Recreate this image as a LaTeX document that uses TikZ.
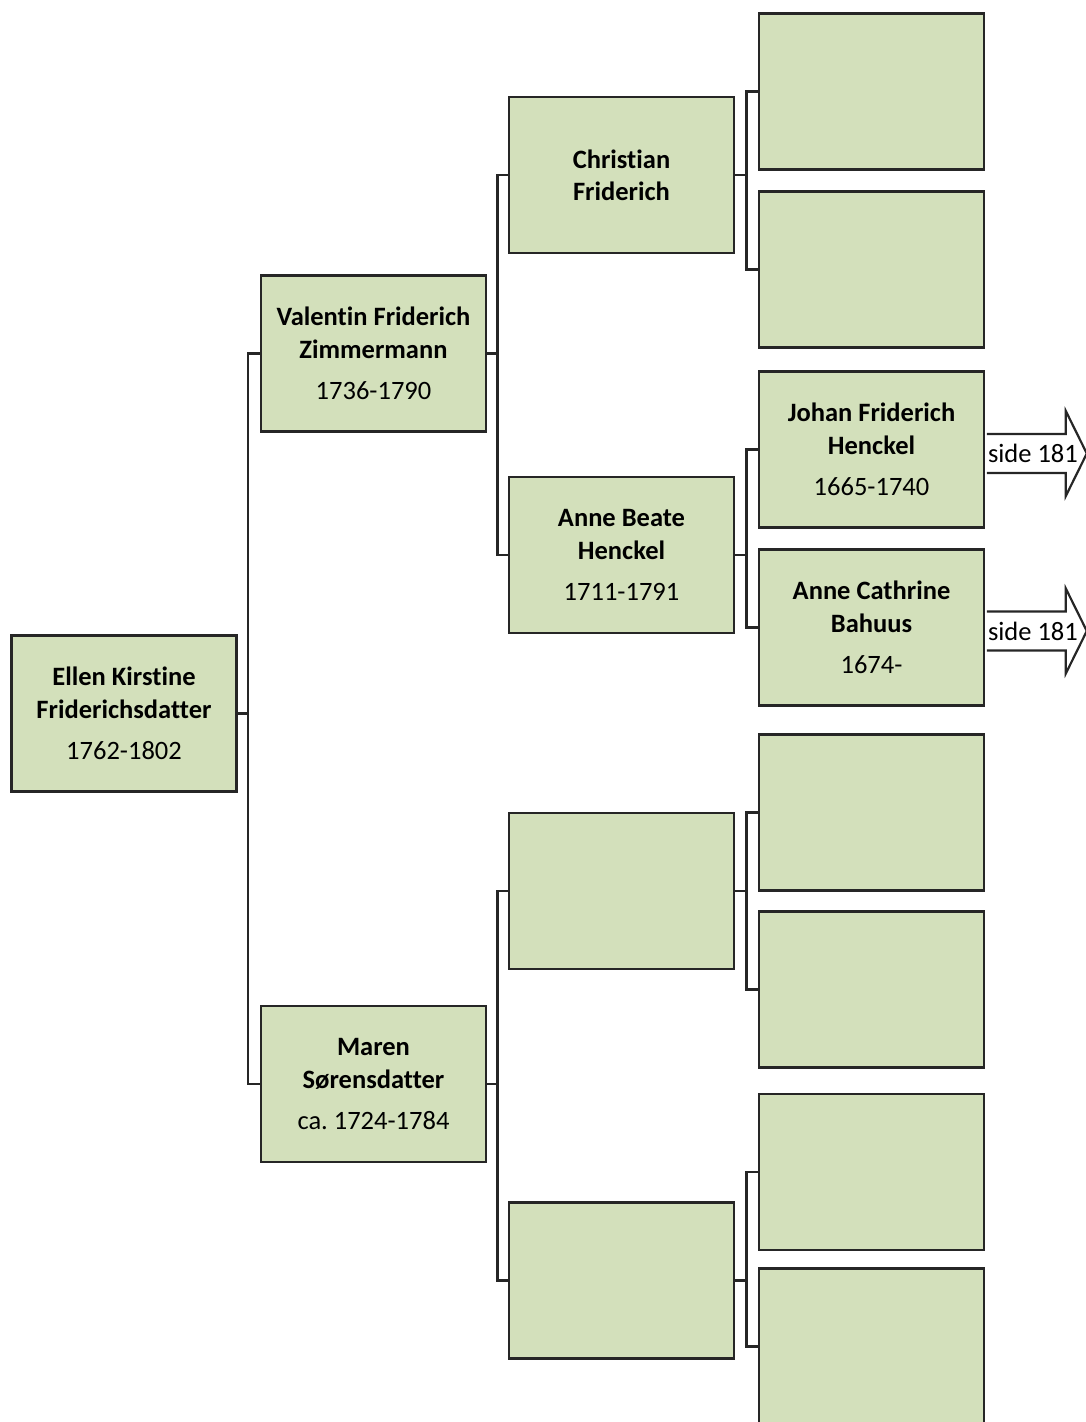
\documentclass[tikz,border=0pt]{standalone}
\usepackage{fontspec}
\setmainfont[RawFeature={-liga;-clig;-calt;-dlig}]{Carlito}
\definecolor{boxgreen}{HTML}{D3E0BB}
\definecolor{boxline}{HTML}{262626}
\tikzset{
  person/.style={draw=boxline, fill=boxgreen, line width=2.8pt,
    minimum width=225pt, minimum height=156pt, inner sep=0pt,
    align=center, font=\fontsize{26.5}{32.3}\selectfont},
  link/.style={draw=boxline, line width=2.5pt},
  sidearrow/.style={draw=boxline, line width=2.2pt, line join=miter},
  sidelabel/.style={font=\fontsize{26.5}{32.3}\selectfont, inner sep=1pt, anchor=west}
}
\newcommand{\nm}[1]{\textbf{#1}}
\begin{document}
\begin{tikzpicture}[x=1pt,y=-1pt]
    \clip (0,0) rectangle (1086,1422);

    % generation 0 and 1
    \node[person] (ellen) at (124,713.5) {\nm{Ellen Kirstine}\\\nm{Friderichsdatter}\\[9pt]1762-1802};
    \node[person] (valentin) at (373.5,353.5) {\nm{Valentin Friderich}\\\nm{Zimmermann}\\[9pt]1736-1790};
    \node[person] (maren) at (373.5,1084) {\nm{Maren}\\\nm{Sørensdatter}\\[9pt]ca.\ 1724-1784};

    % generation 2
    \node[person] (christian) at (621.5,175) {\nm{Christian}\\\nm{Friderich}};
    \node[person] (annebeate) at (621.5,555) {\nm{Anne Beate}\\\nm{Henckel}\\[9pt]1711-1791};
    \node[person] (maren1) at (621.5,891) {};
    \node[person] (maren2) at (621.5,1280.5) {};

    % generation 3
    \node[person] (christian1) at (871.5,91.5) {};
    \node[person] (christian2) at (871.5,269.5) {};
    \node[person] (johan) at (871.5,449.5) {\nm{Johan Friderich}\\\nm{Henckel}\\[9pt]1665-1740};
    \node[person] (cathrine) at (871.5,627.5) {\nm{Anne Cathrine}\\\nm{Bahuus}\\[9pt]1674-};
    \node[person] (maren11) at (871.5,812.5) {};
    \node[person] (maren12) at (871.5,989.5) {};
    \node[person] (maren21) at (871.5,1172) {};
    \node[person] (maren22) at (871.5,1346.5) {};

    % connectors
    \draw[link] (ellen.east) -- ++(10,0) |- (valentin.west);
    \draw[link] (ellen.east) -- ++(10,0) |- (maren.west);

    \draw[link] (valentin.east) -- ++(10,0) |- (christian.west);
    \draw[link] (valentin.east) -- ++(10,0) |- (annebeate.west);
    \draw[link] (maren.east) -- ++(10,0) |- (maren1.west);
    \draw[link] (maren.east) -- ++(10,0) |- (maren2.west);

    \draw[link] (christian.east) -- ++(11,0) |- (christian1.west);
    \draw[link] (christian.east) -- ++(11,0) |- (christian2.west);
    \draw[link] (annebeate.east) -- ++(11,0) |- (johan.west);
    \draw[link] (annebeate.east) -- ++(11,0) |- (cathrine.west);
    \draw[link] (maren1.east) -- ++(11,0) |- (maren11.west);
    \draw[link] (maren1.east) -- ++(11,0) |- (maren12.west);
    \draw[link] (maren2.east) -- ++(11,0) |- (maren21.west);
    \draw[link] (maren2.east) -- ++(11,0) |- (maren22.west);

    % side 181 arrows
    \path (johan.east) ++(1.4,4) coordinate (side1);
    \draw[sidearrow] (side1) ++(0,-19.5) -- ++(79,0) -- ++(0,-23) -- ++(21,42.5)
      -- ++(-21,42.5) -- ++(0,-23) -- ++(-79,0);
    \node[sidelabel] (label1) at (side1) {side 181};

    \path (cathrine.east) ++(1.4,3.5) coordinate (side2);
    \draw[sidearrow] (side2) ++(0,-19.5) -- ++(79,0) -- ++(0,-23) -- ++(21,42.5)
      -- ++(-21,42.5) -- ++(0,-23) -- ++(-79,0);
    \node[sidelabel] (label2) at (side2) {side 181};
\end{tikzpicture}
\end{document}
